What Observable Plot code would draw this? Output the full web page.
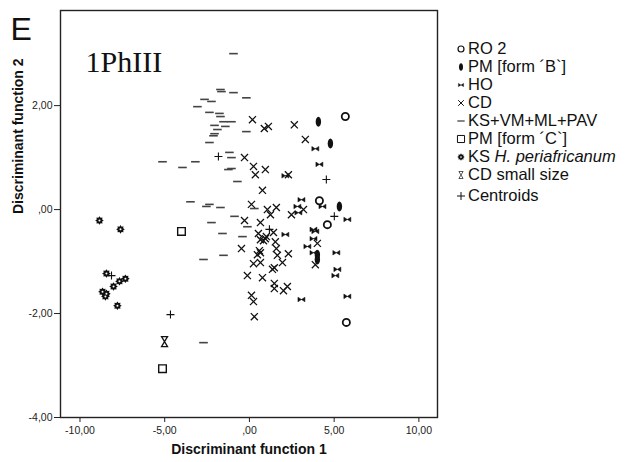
<!DOCTYPE html>
<html>
<head>
<meta charset="utf-8">
<script src="https://cdn.jsdelivr.net/npm/d3@7"></script>
<script src="https://cdn.jsdelivr.net/npm/@observablehq/plot@0.6"></script>
<style>
  html, body { margin: 0; padding: 0; background: #fff; }
  #wrap { position: relative; width: 642px; height: 462px; font-family: "Liberation Sans", Arial, sans-serif; }
  #legend { position: absolute; left: 455px; top: 0; }
  .row { position: absolute; left: 0; white-space: nowrap; font-size: 16.5px; color: #111; line-height: 20px; }
  .row svg { position: absolute; left: 0; top: 0; overflow: visible; }
  .row span { position: absolute; left: 13px; top: 0; }
</style>
</head>
<body>
<div id="wrap"><div id="legend"></div></div>
<script>
// ---- data (discriminant function 1, discriminant function 2) ----
const ro2 = [[5.66, 1.79], [4.13, 0.17], [4.60, -0.29], [5.72, -2.17]];
const pmB = [[4.07, 1.69], [4.78, 1.27], [5.31, 0.06], [4.01, -0.96], [4.01, -0.87]];
const ho = [[3.89, 1.17], [4.13, 0.87], [2.12, 0.65], [3.07, 0.19], [2.83, 0.06], [2.89, -0.06],
  [4.31, 0.06], [5.78, -0.19], [2.12, -0.48], [3.78, -0.38], [3.89, -0.42], [3.78, -0.56],
  [3.42, -0.71], [3.78, -0.83], [5.13, -0.83], [5.19, -1.15], [5.07, -1.27], [3.07, -1.73], [5.78, -1.67]];
const cd = [[0.18, 1.73], [0.88, 1.56], [1.12, 1.60], [2.65, 1.63], [3.30, 1.35], [-0.29, 1.00],
  [0.24, 0.83], [0.94, 0.77], [0.35, 0.67], [2.30, 0.67], [0.77, 0.37], [0.12, 0.10],
  [1.06, 0.00], [1.59, 0.04], [1.24, -0.10], [2.48, -0.10], [3.19, 0.00], [-0.29, -0.21],
  [0.65, -0.25], [0.53, -0.46], [1.42, -0.44], [1.00, -0.52], [0.65, -0.58], [0.83, -0.60],
  [0.94, -0.56], [1.53, -0.62], [-0.47, -0.75], [0.59, -0.79], [0.47, -0.87], [1.59, -0.75],
  [1.65, -0.88], [2.30, -0.85], [4.01, -0.65], [0.24, -1.04], [0.65, -1.02], [1.95, -1.02],
  [1.47, -1.12], [1.36, -1.15], [3.89, -1.06], [-0.12, -1.27], [0.77, -1.31], [1.47, -1.42],
  [1.47, -1.52], [2.01, -1.56], [2.24, -1.48], [0.12, -1.65], [0.24, -1.77], [0.29, -2.06], [0.65, -0.83]];
const ksvm = [[-0.94, 3.00], [-1.71, 2.31], [-1.65, 2.27], [-0.94, 2.25], [-0.18, 2.15], [-2.65, 2.12],
  [-2.24, 2.08], [-3.07, 1.98], [-2.36, 1.87], [-1.77, 1.85], [-1.71, 1.79], [-1.53, 1.69],
  [-1.06, 1.69], [-2.06, 1.62], [-1.42, 1.60], [-1.89, 1.54], [-2.06, 1.46], [-2.12, 1.42],
  [-0.18, 1.50], [-2.36, 1.29], [-1.18, 1.10], [-1.06, 1.00], [-5.13, 0.92], [-3.19, 0.92],
  [-3.95, 0.81], [-1.24, 0.77], [-1.06, 0.79], [-0.71, 0.54], [-3.48, 0.15], [-2.54, 0.06],
  [-2.36, 0.10], [-1.71, 0.04], [0.29, 0.02], [-0.88, -0.13], [-2.24, -0.25], [-0.12, -0.33],
  [-1.59, -0.46], [-0.41, -0.52], [-2.71, -0.96], [-1.53, -0.88], [-2.71, -2.56]];
const pmC = [[-4.01, -0.42], [-5.13, -3.06]];
const ksH = [[-8.85, -0.21], [-7.61, -0.38], [-8.44, -1.23], [-7.67, -1.38], [-7.32, -1.33],
  [-8.02, -1.48], [-8.67, -1.58], [-8.50, -1.67], [-8.44, -1.62], [-7.79, -1.85]];
const cdSmall = [[-5.01, -2.54]];
const centroids = [[-1.83, 1.02], [1.18, -0.38], [4.54, 0.58], [5.01, -0.13], [-8.14, -1.27], [-4.66, -2.02]];

const xTicks = [-10, -5, 0, 5, 10];
const yTicks = [-4, -2, 0, 2];
const legendLabels = ["RO 2", "PM [form ´B`]", "HO", "CD", "KS+VM+ML+PAV", "PM [form ´C`]",
  "KS <i>H. periafricanum</i>", "CD small size", "Centroids"];

// ---- custom symbols ----
const symEllipse = {draw(c) { const rx = 2.7, ry = 5, k = 0.5523;
  c.moveTo(0, -ry); c.bezierCurveTo(rx * k, -ry, rx, -ry * k, rx, 0);
  c.bezierCurveTo(rx, ry * k, rx * k, ry, 0, ry); c.bezierCurveTo(-rx * k, ry, -rx, ry * k, -rx, 0);
  c.bezierCurveTo(-rx, -ry * k, -rx * k, -ry, 0, -ry); c.closePath(); }};
const symBowtie = {draw(c) { c.moveTo(-3.5, -2.3); c.lineTo(3.5, 2.3); c.lineTo(3.5, -2.3); c.lineTo(-3.5, 2.3); c.closePath(); }};
const symDash = {draw(c) { c.moveTo(-4.3, 0); c.lineTo(4.3, 0); }};
const symHour = {draw(c) { c.moveTo(-3, -5); c.lineTo(3, -5); c.lineTo(-3, 5); c.lineTo(3, 5); c.closePath(); }};
const symGear = {draw(c) { const n = 8; for (let i = 0; i < 2 * n; i++) { const a = Math.PI * i / n; const r = i % 2 ? 2.9 : 4.3;
  const px = r * Math.sin(a), py = -r * Math.cos(a); if (i === 0) c.moveTo(px, py); else c.lineTo(px, py); } c.closePath(); }};
const symPlus = {draw(c) { c.moveTo(-4, 0); c.lineTo(4, 0); c.moveTo(0, -4); c.lineTo(0, 4); }};

const fmt = d => d === 0 ? ",00" : d.toFixed(2).replace(".", ",");

const chart = Plot.plot({
  width: 642, height: 462,
  marginLeft: 60, marginRight: 205, marginTop: 10, marginBottom: 45,
  x: {domain: [-11.15, 11.1]},
  y: {domain: [-4, 3.83]},
  style: {fontFamily: "'Liberation Sans', Arial, sans-serif", fontSize: "10.5px", color: "#222", background: "#fff"},
  marks: [
    Plot.axisX({ticks: xTicks, tickFormat: fmt, tickSize: 5, tickPadding: 4, label: null, stroke: "#222"}),
    Plot.axisY({ticks: yTicks, tickFormat: fmt, tickSize: 6, tickPadding: 2, label: null, stroke: "#222"}),
    Plot.frame({stroke: "#222", strokeWidth: 1.4}),
    Plot.dot(ksvm, {x: d => d[0], y: d => d[1], symbol: symDash, stroke: "#444", strokeWidth: 1.6, r: 4}),
    Plot.dot(cd, {x: d => d[0], y: d => d[1], symbol: "times", stroke: "#111", strokeWidth: 1.3, r: 3.3}),
    Plot.dot(ho, {x: d => d[0], y: d => d[1], symbol: symBowtie, fill: "#111", stroke: "#111", strokeWidth: 0.5, r: 4}),
    Plot.dot(ro2, {x: d => d[0], y: d => d[1], symbol: "circle", fill: "none", stroke: "#111", strokeWidth: 1.8, r: 3.6}),
    Plot.dot(pmB, {x: d => d[0], y: d => d[1], symbol: symEllipse, fill: "#111", r: 4}),
    Plot.dot(pmC, {x: d => d[0], y: d => d[1], symbol: "square", fill: "none", stroke: "#111", strokeWidth: 1.4, r: 4.3}),
    Plot.dot(ksH, {x: d => d[0], y: d => d[1], symbol: symGear, fill: "#111", r: 4}),
    Plot.dot(ksH, {x: d => d[0], y: d => d[1], fill: "#fff", r: 1}),
    Plot.dot(cdSmall, {x: d => d[0], y: d => d[1], symbol: symHour, fill: "none", stroke: "#111", strokeWidth: 1.3, r: 4}),
    Plot.dot(centroids, {x: d => d[0], y: d => d[1], symbol: symPlus, stroke: "#111", strokeWidth: 1.1, r: 4}),
    Plot.text(["Discriminant function 1"], {frameAnchor: "bottom", dy: 36, fontWeight: "bold", fontSize: 14, fill: "#111"}),
    Plot.text(["Discriminant function 2"], {frameAnchor: "left", dx: -42, rotate: -90, fontWeight: "bold", fontSize: 14, fill: "#111"}),
    Plot.text(["1PhIII"], {frameAnchor: "top-left", dx: 25, dy: 40, textAnchor: "start", fontFamily: "'Liberation Serif', 'Times New Roman', serif", fontSize: 30, fill: "#111"}),
    Plot.text(["E"], {frameAnchor: "top-left", dx: -50, dy: 7, textAnchor: "start", fontSize: 32, fill: "#111"})
  ]
});
document.getElementById("wrap").prepend(chart);

// ---- legend ----
const legSyms = [
  {t: "circle", fill: "none", stroke: "#111", sw: 1.2, size: 28},
  {t: symEllipse, fill: "#111", stroke: "none", sw: 0, scale: 0.75},
  {t: symBowtie, fill: "#111", stroke: "#111", sw: 0.4, scale: 0.75},
  {t: d3.symbolTimes, fill: "none", stroke: "#111", sw: 1, size: 22},
  {t: symDash, fill: "none", stroke: "#111", sw: 1.2, scale: 0.85},
  {t: "square", fill: "none", stroke: "#111", sw: 1, size: 50},
  {t: symGear, fill: "#111", stroke: "none", sw: 0, scale: 0.85, hole: true},
  {t: symHour, fill: "none", stroke: "#111", sw: 1, scale: 0.7},
  {t: symPlus, fill: "none", stroke: "#111", sw: 1, scale: 1}
];
const rowY = [38, 56, 74, 92, 110, 128, 146, 164, 185];
const legend = d3.select("#legend");
legendLabels.forEach((lab, i) => {
  const row = legend.append("div").attr("class", "row").style("top", rowY[i] + "px");
  const svg = row.append("svg").attr("width", 12).attr("height", 20);
  const s = legSyms[i];
  let path;
  if (s.t === "circle") path = d3.symbol(d3.symbolCircle, s.size)();
  else if (s.t === "square") path = d3.symbol(d3.symbolSquare, s.size)();
  else path = d3.symbol(s.t, s.size || 64)();
  const g = svg.append("g").attr("transform", `translate(6,11) scale(${s.scale || 1})`);
  g.append("path").attr("d", path).attr("fill", s.fill).attr("stroke", s.stroke).attr("stroke-width", s.sw);
  if (s.hole) g.append("circle").attr("r", 1).attr("fill", "#fff");
  row.append("span").html(lab);
});
</script>
</body>
</html>
